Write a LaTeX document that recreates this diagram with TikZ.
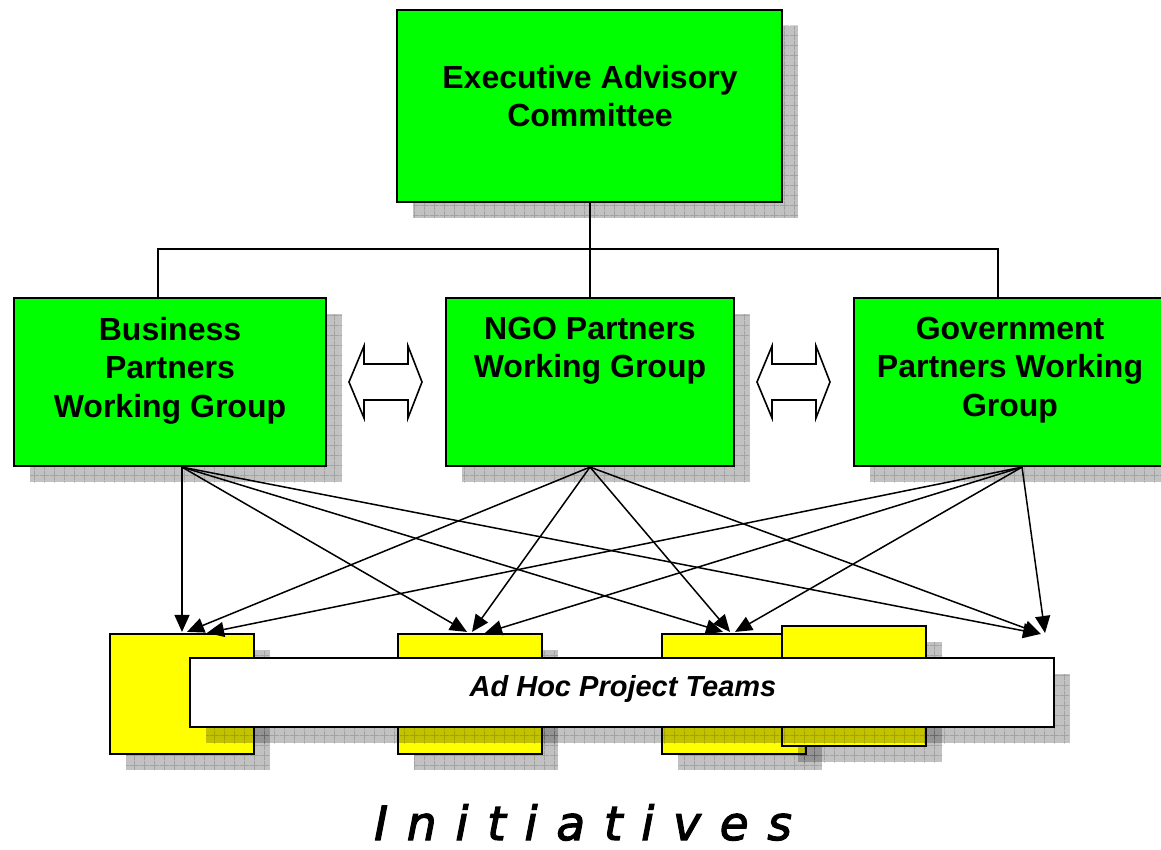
\documentclass[tikz,border=0pt]{standalone}
\usepackage{fontspec}
\setmainfont{Liberation Sans}
\newfontfamily\initfont[LetterSpace=40,FakeBold=2.5]{DejaVu Sans Oblique}
\usetikzlibrary{arrows.meta,shadows,patterns.meta,calc}
\definecolor{gr}{RGB}{0,255,0}
\definecolor{yl}{RGB}{255,255,0}
\tikzdeclarepattern{name=shgrid, type=uncolored,
  bounding box={(0pt,0pt) and (10pt,10pt)}, tile size={(10pt,10pt)},
  code={\draw[line width=0.8pt] (0pt,5pt) -- (10pt,5pt) (5pt,0pt) -- (5pt,10pt);}}
\tikzset{
  shd/.style={
    general shadow={shadow xshift=16pt, shadow yshift=-16pt, fill=black, fill opacity=0.24},
    general shadow={shadow xshift=16pt, shadow yshift=-16pt, pattern=shgrid, pattern color=black, fill opacity=0.16}},
  gbox/.style={draw=black, line width=2.2pt, fill=gr, shd, inner sep=0pt},
  ybox/.style={draw=black, line width=2.2pt, fill=yl, shd, inner sep=0pt, minimum width=144, minimum height=120},
  bar/.style={draw=black, line width=2.2pt, fill=white, shd, inner sep=0pt, minimum width=864, minimum height=69},
  lbl/.style={font=\fontsize{32}{38.5}\selectfont\bfseries, align=center, inner sep=0pt, anchor=north},
  conn/.style={line width=1.7pt},
  arr/.style={line width=1.5pt, -{Triangle[length=17pt,width=15pt]}},
  dblarrow/.pic={\draw[line width=1.6pt, line join=miter, fill=white]
     (-36.5,0) -- (-21.5,-36) -- (-21.5,-18) -- (22.5,-18) -- (22.5,-36) -- (36.5,0)
     -- (22.5,36) -- (22.5,18) -- (-21.5,18) -- (-21.5,36) -- cycle;}
}
\begin{document}
\begin{tikzpicture}[x=1pt,y=-1pt]
\useasboundingbox (0,0) rectangle (1161,850);
% top and group boxes
\node[gbox, minimum width=385, minimum height=192] (exec) at (589.5,106) {};
\node[lbl] (exect) at ($(exec.north)+(0.5,56)$) {Executive Advisory\\Committee};
\node[gbox, minimum width=312, minimum height=168] (bus) at (170,382) {};
\node[lbl] (bust) at ($(bus.north)+(0,20)$) {Business\\Partners\\Working Group};
\node[gbox, minimum width=288, minimum height=168] (ngo) at (590,382) {};
\node[lbl] (ngot) at ($(ngo.north)+(0,20)$) {NGO Partners\\Working Group};
\node[gbox, minimum width=312, minimum height=168] (gov) at (1010,382) {};
\node[lbl] (govt) at ($(gov.north)+(0,20)$) {Government\\Partners Working\\Group};
% tree connector
\coordinate (jn) at ($(exec.south)+(0.5,46)$);
\coordinate (bt) at ($(bus.north)+(-12,0)$);
\coordinate (gt) at ($(gov.north)+(-12,0)$);
\draw[conn] ($(exec.south)+(0.5,0)$) -- (ngo.north);
\draw[conn] (bt) |- (jn) -| (gt);
% double arrows
\pic (d1) at (385.5,382) {dblarrow};
\pic (d2) at (793.5,382) {dblarrow};
% yellow boxes and bar
\node[ybox] (b1) at (182,694) {};
\node[ybox] (b2) at (470,694) {};
\node[ybox] (b3) at (734,694) {};
\node[ybox] (b4) at (854,686) {};
\node[bar] (bar) at (622,692.5) {};
\node[font=\fontsize{29}{33}\selectfont\bfseries\itshape, inner sep=0pt, anchor=base] (bart) at (623,696) {Ad Hoc Project Teams};
% arrow sources and targets
\coordinate (bs) at ($(bus.south)+(12,0)$);
\coordinate (ns) at (ngo.south);
\coordinate (gs) at ($(gov.south)+(12,0)$);
\coordinate (t1a) at ($(b1.north)+(0,-1)$);
\coordinate (t1b) at ($(b1.north)+(5,-1)$);
\coordinate (t1c) at ($(b1.north)+(25,0)$);
\coordinate (t2a) at ($(b2.north)+(-3,-1)$);
\coordinate (t2b) at ($(b2.north)+(2,-1)$);
\coordinate (t2c) at ($(b2.north)+(15,0)$);
\coordinate (t3a) at ($(b3.north)+(-11,-1)$);
\coordinate (t3b) at ($(b3.north)+(-4,-1)$);
\coordinate (t3c) at ($(b3.north)+(1,-1)$);
\coordinate (t4a) at (1040,634);
\coordinate (t4b) at (1041,634);
\coordinate (t4c) at (1045,633);
\foreach \t in {t1a,t2a,t3a,t4a} \draw[arr] (bs) -- (\t);
\foreach \t in {t1b,t2b,t3b,t4b} \draw[arr] (ns) -- (\t);
\foreach \t in {t1c,t2c,t3c,t4c} \draw[arr] (gs) -- (\t);
% caption
\node[font=\initfont\fontsize{47}{50}\selectfont, inner sep=0pt, anchor=base west] (init) at (374,840) {Initiatives};
\end{tikzpicture}
\end{document}
